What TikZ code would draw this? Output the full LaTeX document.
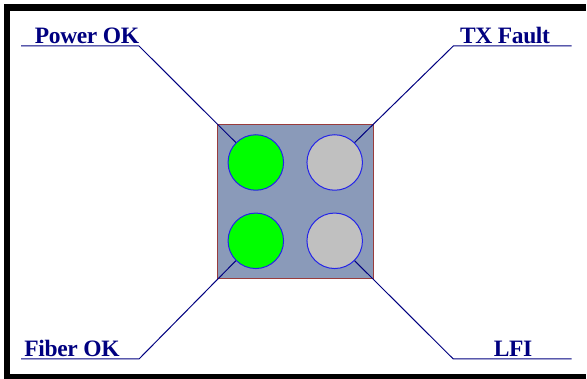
\documentclass[tikz,border=0pt]{standalone}
\usepackage{fontspec}
\setmainfont{Liberation Serif}
\begin{document}
\begin{tikzpicture}[x=1pt,y=-1pt,
  frame/.style={fill=black},
  panel/.style={fill=panelfill,draw=paneledge,line width=1.5pt},
  led/.style={circle,draw=lededge,line width=1pt,minimum size=55.5pt,inner sep=0pt},
  ledon/.style={led,fill=ledgreen},
  ledoff/.style={led,fill=ledgray},
  tag/.style={text=navy,font=\fontsize{23.5}{23.5}\selectfont\bfseries\addfontfeature{LetterSpace=-1.5},inner sep=0pt,anchor=base},
  leader/.style={draw=navy,line width=1pt}]
\definecolor{panelfill}{HTML}{8A9AB9}
\definecolor{paneledge}{HTML}{993C3C}
\definecolor{lededge}{HTML}{2424E8}
\definecolor{ledgreen}{HTML}{00FF00}
\definecolor{ledgray}{HTML}{C0C0C0}
\definecolor{navy}{HTML}{000080}
\useasboundingbox (0,0) rectangle (587,379);
\fill[white] (0,0) rectangle (587,379);
% black frame on the left, top and bottom
\fill[frame] (3.5,4.5) rectangle (586,11);
\fill[frame] (3.5,4.5) rectangle (10,379);
\fill[frame] (3.5,374.5) rectangle (586,379);
% panel with the four indicators
\draw[panel] (217.5,124.5) rectangle (373.5,278.5);
\node[ledon]  (pwr) at (255.8,162.5) {};
\node[ledoff] (txf) at (334.7,162.5) {};
\node[ledon]  (fib) at (255.8,240.8) {};
\node[ledoff] (lfi) at (334.7,240.8) {};
% labels
\node[tag] (tpwr) at (87,44) {Power OK};
\node[tag] (ttxf) at (505,44) {TX Fault};
\node[tag] (tfib) at (72,357) {Fiber OK};
\node[tag] (tlfi) at (513,357) {LFI};
% underline end points
\coordinate (pwrA) at (21,46);   \coordinate (pwrB) at (139,46);
\coordinate (txfA) at (571.7,46);\coordinate (txfB) at (453.3,46);
\coordinate (fibA) at (21,359);  \coordinate (fibB) at (139,359);
\coordinate (lfiA) at (571.7,359);\coordinate (lfiB) at (453.3,359);
% leader lines
\draw[leader] (pwrA) -- (pwrB) -- (pwr.135);
\draw[leader] (txfA) -- (txfB) -- (txf.45);
\draw[leader] (fibA) -- (fibB) -- (fib.225);
\draw[leader] (lfiA) -- (lfiB) -- (lfi.315);
\end{tikzpicture}
\end{document}
